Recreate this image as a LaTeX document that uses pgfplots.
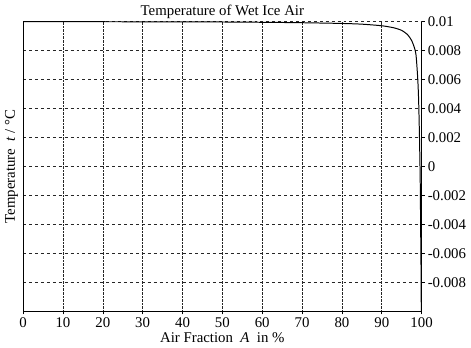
\documentclass[border=0pt]{standalone}
\usepackage{pgfplots}
\pgfplotsset{compat=1.18}
\usetikzlibrary{calc}
\usepackage{fontspec}
\setmainfont{Liberation Serif}
\begin{document}
\fontsize{15}{18}\selectfont
\begin{tikzpicture}
\begin{axis}[
  name=ax,
  scale only axis,
  width=403pt, height=293pt,
  xmin=0, xmax=100, ymin=-0.01, ymax=0.01,
  axis x line*=bottom, axis y line*=right,
  xtick={0,10,...,100},
  ytick={-0.008,-0.006,-0.004,-0.002,0,0.002,0.004,0.006,0.008,0.01},
  yticklabels={-0.008,-0.006,-0.004,-0.002,0,0.002,0.004,0.006,0.008,0.01},
  scaled y ticks=false,
  /pgf/number format/assume math mode=true,
  tick align=outside, major tick length=3pt,
  grid=major,
  major x grid style={black!85, densely dotted, line width=0.6pt},
  major y grid style={black!85, dashed, line width=0.6pt},
  axis line style={black, line width=0.9pt},
  tick style={black, line width=0.6pt},
  xticklabel style={yshift=2pt},
  yticklabel style={xshift=-2pt},
  title={Temperature of Wet Ice Air},
  title style={yshift=-8pt},
  xlabel={Air Fraction\ \ \textit{A}\ \ in \%},
  xlabel style={yshift=5pt},
  clip mode=individual,
]
\addplot[black, line width=1pt, smooth, tension=0.4] coordinates {
(0,0.01) (30,0.009995) (50,0.00998) (60,0.00996) (70,0.00993) (80,0.00988)
(85,0.00983) (90,0.00972) (93,0.00958) (95,0.0094) (96.5,0.0091) (97.5,0.0087)
(98.2,0.0082) (98.6,0.0077) (99.0,0.0062) (99.2,0.005) (99.35,0.0035)
(99.5,0.0015) (99.65,-0.001) (99.75,-0.004) (99.85,-0.007) (99.92,-0.01)
};
\end{axis}
\draw[black, line width=0.9pt] (ax.south west) -- (ax.north west);
\node[rotate=90, anchor=south, inner sep=5pt] at ($(ax.south west)!0.5!(ax.north west)$) {Temperature\ \ \textit{t}\ / °C};
\end{tikzpicture}
\end{document}
